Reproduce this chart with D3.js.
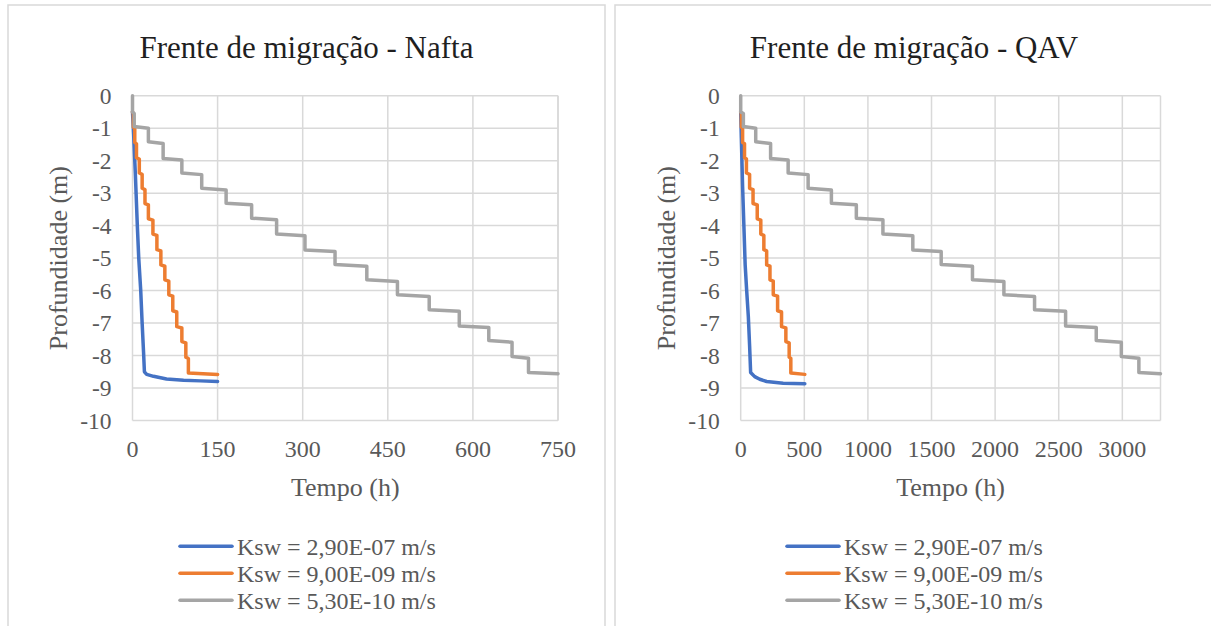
<!DOCTYPE html>
<html>
<head>
<meta charset="utf-8">
<script src="https://cdn.jsdelivr.net/npm/d3@7"></script>
<style>
  html, body { margin: 0; padding: 0; background: #fff; }
  svg { display: block; }
  text { font-family: "Liberation Serif", "Times New Roman", serif; }
</style>
</head>
<body>
<svg id="chart" width="1211" height="626"></svg>
<script>
// ---------------- DATA ----------------
const seriesNames = ["Ksw = 2,90E-07 m/s", "Ksw = 9,00E-09 m/s", "Ksw = 5,30E-10 m/s"];
const seriesColors = ["#4472C4", "#ED7D31", "#A5A5A5"];

const yTicks = [0, -1, -2, -3, -4, -5, -6, -7, -8, -9, -10];
const yTickLabels = ["0", "-1", "-2", "-3", "-4", "-5", "-6", "-7", "-8", "-9", "-10"];

const naftaTitle = "Frente de migração - Nafta";
const naftaXTicks = [0, 150, 300, 450, 600, 750];
const naftaXMax = 750;

const qavTitle = "Frente de migração - QAV";
const qavXTicks = [0, 500, 1000, 1500, 2000, 2500, 3000];
const qavXMax = 3300;

// Nafta series: [tempo (h), profundidade (m)]
const naftaBlue = [[0,-0.5],[2,-1.2],[5,-2.4],[8.5,-4.0],[11,-5.0],[14.5,-6.0],[17,-7.0],[19.5,-7.9],[21,-8.5],
  [25,-8.58],[37,-8.64],[60,-8.72],[90,-8.76],[120,-8.78],[150,-8.8]];
const naftaOrange = [[0,-0.5],[1.5,-0.55],[1.5,-0.97],[4,-1.0],[4,-1.44],[7,-1.48],[7,-1.91],[12,-1.95],[12,-2.38],
  [17,-2.42],[17,-2.85],[22,-2.89],[22,-3.32],[28,-3.36],[28,-3.79],[36,-3.83],[36,-4.26],[43,-4.3],[43,-4.74],
  [50,-4.78],[50,-5.21],[57,-5.25],[57,-5.67],[64,-5.71],[64,-6.13],[71,-6.17],[71,-6.62],[78,-6.66],[78,-7.11],
  [87,-7.15],[87,-7.57],[94,-7.61],[94,-8.05],[98.5,-8.09],[98.5,-8.54],[150,-8.58]];
const naftaGray = [[0,0],[0,-0.5],[3,-0.55],[3,-0.95],[28,-1.0],[28,-1.42],[54,-1.47],[54,-1.93],[87,-1.98],[87,-2.38],
  [122,-2.43],[122,-2.85],[165,-2.9],[165,-3.31],[210,-3.36],[210,-3.77],[254,-3.82],[254,-4.26],[304,-4.31],[304,-4.75],
  [357,-4.8],[357,-5.2],[413,-5.25],[413,-5.67],[467,-5.72],[467,-6.13],[523,-6.18],[523,-6.59],[576,-6.64],[576,-7.09],
  [628,-7.14],[628,-7.54],[669,-7.59],[669,-8.03],[698,-8.08],[698,-8.52],[750,-8.56]];

// QAV series
const qavBlue = [[0,-0.5],[5,-1.3],[15,-2.8],[25,-4.0],[35,-5.2],[47,-6.0],[60,-6.8],[70,-7.7],[78,-8.52],
  [110,-8.65],[150,-8.73],[204,-8.8],[334,-8.85],[504,-8.87]];
const qavOrange = [[0,-0.5],[5,-0.55],[5,-0.97],[15,-1.0],[15,-1.44],[30,-1.48],[30,-1.91],[45,-1.95],[45,-2.38],
  [70,-2.42],[70,-2.85],[97,-2.89],[97,-3.32],[130,-3.36],[130,-3.79],[158,-3.83],[158,-4.26],[182,-4.3],[182,-4.74],
  [204,-4.78],[204,-5.21],[230,-5.25],[230,-5.67],[256,-5.71],[256,-6.13],[290,-6.17],[290,-6.62],[321,-6.66],[321,-7.11],
  [355,-7.15],[355,-7.57],[381,-7.61],[381,-8.05],[394,-8.09],[394,-8.54],[504,-8.58]];
const qavGray = [[0,0],[0,-0.5],[21,-0.55],[21,-0.95],[118,-1.0],[118,-1.42],[235,-1.47],[235,-1.93],[373,-1.98],[373,-2.38],
  [530,-2.43],[530,-2.85],[713,-2.9],[713,-3.31],[909,-3.36],[909,-3.77],[1118,-3.82],[1118,-4.26],[1353,-4.31],[1353,-4.75],
  [1576,-4.8],[1576,-5.2],[1822,-5.25],[1822,-5.67],[2069,-5.72],[2069,-6.13],[2310,-6.18],[2310,-6.59],[2554,-6.64],[2554,-7.09],
  [2795,-7.14],[2795,-7.54],[2992,-7.59],[2992,-8.03],[3130,-8.08],[3130,-8.52],[3300,-8.56]];

const xTitle = "Tempo (h)";
const yTitle = "Profundidade (m)";

// ---------------- DRAW ----------------
const svg = d3.select("#chart");
const textColor = "#595959";
const gridColor = "#d9d9d9";
const fontFam = "'Liberation Serif', 'Times New Roman', serif";

function drawPanel(opt) {
  const g = svg.append("g").attr("font-family", fontFam);
  // panel border
  g.append("rect")
    .attr("x", opt.px).attr("y", 5).attr("width", opt.pw).attr("height", 640)
    .attr("fill", "#fff").attr("stroke", "#d9d9d9").attr("stroke-width", 1.5);

  const x = d3.scaleLinear().domain([0, opt.xMax]).range([opt.x0, opt.x1]);
  const y = d3.scaleLinear().domain([-10, 0]).range([420.5, 95.7]);

  // horizontal gridlines
  g.append("g").selectAll("line").data(yTicks).join("line")
    .attr("x1", opt.x0).attr("x2", opt.x1)
    .attr("y1", d => y(d)).attr("y2", d => y(d))
    .attr("stroke", gridColor).attr("stroke-width", 1.5);
  // vertical gridlines
  g.append("g").selectAll("line").data(opt.xTicks.concat([opt.xMax])).join("line")
    .attr("x1", d => x(d)).attr("x2", d => x(d))
    .attr("y1", y(0)).attr("y2", y(-10))
    .attr("stroke", gridColor).attr("stroke-width", 1.5);

  // y tick labels
  g.append("g").selectAll("text").data(yTicks).join("text")
    .attr("x", opt.x0 - 21).attr("y", d => y(d)).attr("dy", "0.35em")
    .attr("text-anchor", "end").attr("fill", textColor).attr("font-size", 23.5)
    .text((d, i) => yTickLabels[i]);
  // x tick labels
  g.append("g").selectAll("text").data(opt.xTicks).join("text")
    .attr("x", d => x(d)).attr("y", 457)
    .attr("text-anchor", "middle").attr("fill", textColor).attr("font-size", 24)
    .text(d => String(d));

  // axis titles
  g.append("text").attr("x", (opt.x0 + opt.x1) / 2).attr("y", 496)
    .attr("text-anchor", "middle").attr("fill", textColor).attr("font-size", 26)
    .text(xTitle);
  g.append("text")
    .attr("transform", `translate(${opt.x0 - 75},${(y(0) + y(-10)) / 2}) rotate(-90)`)
    .attr("dy", "0.35em")
    .attr("text-anchor", "middle").attr("fill", textColor).attr("font-size", 26)
    .text(yTitle);

  // chart title
  g.append("text").attr("x", opt.px + opt.pw / 2).attr("y", 58)
    .attr("text-anchor", "middle").attr("fill", "#1f1f1f").attr("font-size", 31)
    .text(opt.title);

  // series lines
  const line = d3.line().x(d => x(d[0])).y(d => y(d[1]));
  opt.series.forEach((s, i) => {
    g.append("path").datum(s)
      .attr("d", line).attr("fill", "none")
      .attr("stroke", seriesColors[i]).attr("stroke-width", 3.5)
      .attr("stroke-linejoin", "round").attr("stroke-linecap", "round");
  });

  // legend
  const lx = opt.px + 172;
  const rows = [546.3, 573.3, 600.3];
  seriesNames.forEach((name, i) => {
    g.append("line").attr("x1", lx).attr("x2", lx + 52)
      .attr("y1", rows[i]).attr("y2", rows[i])
      .attr("stroke", seriesColors[i]).attr("stroke-width", 3.5).attr("stroke-linecap", "round");
    g.append("text").attr("x", lx + 57).attr("y", rows[i]).attr("dy", "0.35em")
      .attr("fill", textColor).attr("font-size", 24).text(name);
  });
}

drawPanel({ px: 8, pw: 597, x0: 132.5, x1: 558, xMax: naftaXMax, xTicks: naftaXTicks,
  title: naftaTitle, series: [naftaBlue, naftaOrange, naftaGray] });
drawPanel({ px: 615, pw: 598, x0: 740.7, x1: 1160.5, xMax: qavXMax, xTicks: qavXTicks,
  title: qavTitle, series: [qavBlue, qavOrange, qavGray] });
</script>
</body>
</html>
